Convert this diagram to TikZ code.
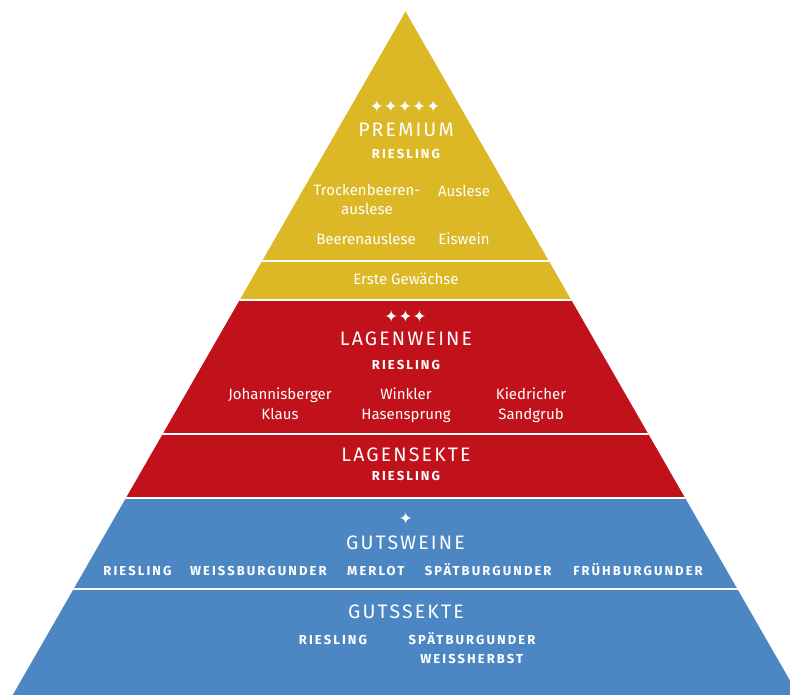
\documentclass[tikz,border=0pt]{standalone}
\usepackage{fontspec}
\setmainfont{Fira Sans}
\newfontfamily\headfont[LetterSpace=11]{Fira Sans}
\newfontfamily\labfont[LetterSpace=16]{Fira Sans}
\newfontfamily\symfont[LetterSpace=2]{DejaVu Sans}
\definecolor{pyel}{RGB}{220,184,38}
\definecolor{pred}{RGB}{193,17,27}
\definecolor{pblue}{RGB}{76,135,196}
\tikzset{
  txt/.style={text=white, inner sep=0pt, anchor=base},
  head/.style={txt, font=\headfont\fontsize{19.5}{20}\selectfont},
  lab/.style={txt, font=\labfont\bfseries\fontsize{13}{20}\selectfont},
  body/.style={txt, font=\fontsize{15}{19.5}\selectfont, align=center},
  stars/.style={txt, anchor=center, font=\symfont\fontsize{16.5}{17}\selectfont},
  sep/.style={draw=white, line width=2pt}
}
\begin{document}
\begin{tikzpicture}[x=1pt,y=-1pt]
\useasboundingbox (0,0) rectangle (790,695);
\coordinate (apex) at (405.5,11.5);
\coordinate (bl) at (12.7,695);
\coordinate (br) at (798.3,695);
\begin{scope}
  \clip (apex) -- (bl) -- (br) -- cycle;
  \fill[pyel] (0,0) rectangle (800,299.5);
  \fill[pred] (0,299.5) rectangle (800,498);
  \fill[pblue] (0,498) rectangle (800,700);
  \draw[sep] (0,261) -- (800,261);
  \draw[sep] (0,299.5) -- (800,299.5);
  \draw[sep] (0,434) -- (800,434);
  \draw[sep] (0,497.5) -- (800,497.5);
  \draw[sep] (0,589) -- (800,589);
\end{scope}
% Premium
\node[stars] (s5) at (405,106) {✦✦✦✦✦};
\node[head] (premium) at (406,137) {PREMIUM};
\node[lab] (ries1) at (406,158.3) {RIESLING};
\node[body] (tba) at (367,215) {Trockenbeeren-\\auslese};
\node[body] (aus) at (464,196.7) {Auslese};
\node[body] (ba) at (366,244) {Beerenauslese};
\node[body] (eis) at (464,244) {Eiswein};
\node[body] (erste) at (406,284) {Erste Gewächse};
% Lagenweine
\node[stars] (s3) at (405.5,316.7) {✦✦✦};
\node[head] (lagw) at (406,345.7) {LAGENWEINE};
\node[lab] (ries2) at (406,369.3) {RIESLING};
\node[body] (joh) at (280,419) {Johannisberger\\Klaus};
\node[body] (win) at (406,419) {Winkler\\Hasensprung};
\node[body] (kie) at (531,419) {Kiedricher\\Sandgrub};
% Lagensekte
\node[head] (lags) at (406,461) {LAGENSEKTE};
\node[lab] (ries3) at (406,480) {RIESLING};
% Gutsweine
\node[stars] (s1) at (405.8,518) {✦};
\node[head] (gutw) at (405.5,549) {GUTSWEINE};
\node[lab] (gw1) at (137.5,575) {RIESLING};
\node[lab] (gw2) at (258.3,575) {WEISSBURGUNDER};
\node[lab] (gw3) at (375.8,575) {MERLOT};
\node[lab] (gw4) at (488.2,575) {SPÄTBURGUNDER};
\node[lab] (gw5) at (638,575) {FRÜHBURGUNDER};
% Gutssekte
\node[head] (guts) at (406,618.3) {GUTSSEKTE};
\node[lab] (gs1) at (333,644) {RIESLING};
\node[lab] (gs2) at (472,644) {SPÄTBURGUNDER};
\node[lab] (gs3) at (471.7,663) {WEISSHERBST};
\end{tikzpicture}
\end{document}
